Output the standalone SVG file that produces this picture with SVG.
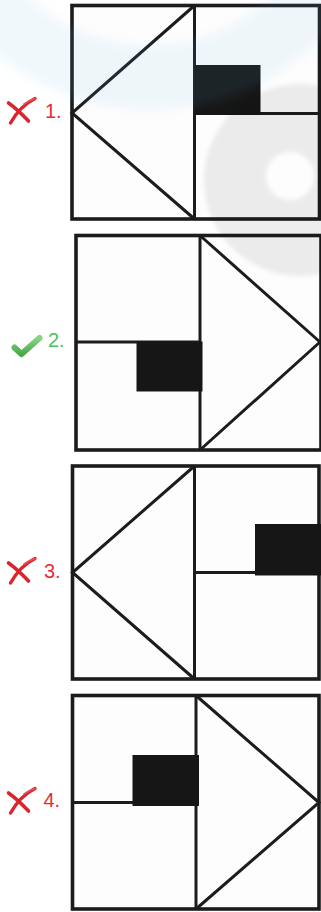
<svg xmlns="http://www.w3.org/2000/svg" width="321" height="912" viewBox="0 0 321 912">
<style>
.frame{fill:#fdfdfd;stroke:#1c1c1c;stroke-width:3.6}
.ln{fill:none;stroke:#1c1c1c;stroke-width:3;stroke-linecap:butt}
.blk{fill:#161616}
.lbl{font-family:"Liberation Sans",Arial,sans-serif;font-size:20px}
.bad{fill:#ea2a32}
.good{fill:#4cc25a}
</style>
<defs>
<g id="xmark">
<path d="M1.5,5 Q10,11 21.5,23" fill="none" stroke="#d8252e" stroke-width="3.6" stroke-linecap="round"/>
<path d="M28,0.5 Q13,8 3.5,25" fill="none" stroke="#d8252e" stroke-width="3.4" stroke-linecap="round"/>
<path d="M28,0.5 Q22,2.5 17,6" fill="none" stroke="#e8535a" stroke-width="1.6" stroke-linecap="round"/>
</g>
<linearGradient id="gck" x1="0" y1="0" x2="0" y2="1">
<stop offset="0" stop-color="#86d486"/>
<stop offset="1" stop-color="#4aa84a"/>
</linearGradient>
<filter id="soft" x="-20%" y="-20%" width="140%" height="140%">
<feGaussianBlur stdDeviation="5"/>
</filter>
<filter id="soft2" x="-20%" y="-20%" width="140%" height="140%">
<feGaussianBlur stdDeviation="2"/>
</filter>
</defs>
<rect width="321" height="912" fill="#ffffff"/>

<g id="option1">
<rect class="frame" x="72" y="5.5" width="247.5" height="213.5"/>
<line class="ln" x1="194.5" y1="5.5" x2="194.5" y2="219"/>
<polyline class="ln" points="194.5,5.5 72,113 194.5,219"/>
<line class="ln" x1="194.5" y1="113.5" x2="319.5" y2="113.5"/>
<rect class="blk" x="194.5" y="65" width="66" height="50"/>
<use href="#xmark" x="7" y="98"/>
<text class="lbl bad" x="45" y="117.5">1.</text>
</g>

<g id="option2">
<rect class="frame" x="76" y="235.5" width="245" height="214.5"/>
<line class="ln" x1="200" y1="235.5" x2="200" y2="450"/>
<polyline class="ln" points="200,235.5 320,342 200,450"/>
<line class="ln" x1="76" y1="342" x2="200" y2="342"/>
<rect class="blk" x="136.5" y="341.5" width="66" height="50"/>
<path d="M14.5,347.5 L21.5,354 L39.5,338" fill="none" stroke="url(#gck)" stroke-width="6" stroke-linecap="round" stroke-linejoin="round"/>
<text class="lbl good" x="48" y="347">2.</text>
</g>

<g id="option3">
<rect class="frame" x="72.5" y="466" width="246.5" height="213"/>
<line class="ln" x1="194.5" y1="466" x2="194.5" y2="679"/>
<polyline class="ln" points="194.5,466 72.5,572.5 194.5,679"/>
<line class="ln" x1="194.5" y1="572.5" x2="256" y2="572.5"/>
<rect class="blk" x="255" y="524" width="66" height="51.5"/>
<use href="#xmark" x="7" y="558"/>
<text class="lbl bad" x="44" y="578">3.</text>
</g>

<g id="option4">
<rect class="frame" x="72.5" y="695.5" width="246.5" height="213.5"/>
<line class="ln" x1="196" y1="695.5" x2="196" y2="909"/>
<polyline class="ln" points="196,695.5 319,802.5 196,909"/>
<line class="ln" x1="72.5" y1="802.5" x2="133" y2="802.5"/>
<rect class="blk" x="132.5" y="755" width="66.5" height="51"/>
<use href="#xmark" x="7" y="788"/>
<text class="lbl bad" x="43.5" y="807">4.</text>
</g>

<g id="watermark">
<path d="M-90,-130 a240,240 0 1,0 480,0 a240,240 0 1,0 -480,0 Z M-25,-130 a175,175 0 1,0 350,0 a175,175 0 1,0 -350,0 Z" fill="#5fb4e0" fill-opacity="0.09" fill-rule="evenodd" filter="url(#soft)"/>
<path d="M204,180 a96,96 0 1,0 192,0 a96,96 0 1,0 -192,0 Z M266,176 a24,24 0 1,0 48,0 a24,24 0 1,0 -48,0 Z" fill="#000000" fill-opacity="0.07" fill-rule="evenodd" filter="url(#soft2)"/>
</g>
</svg>
